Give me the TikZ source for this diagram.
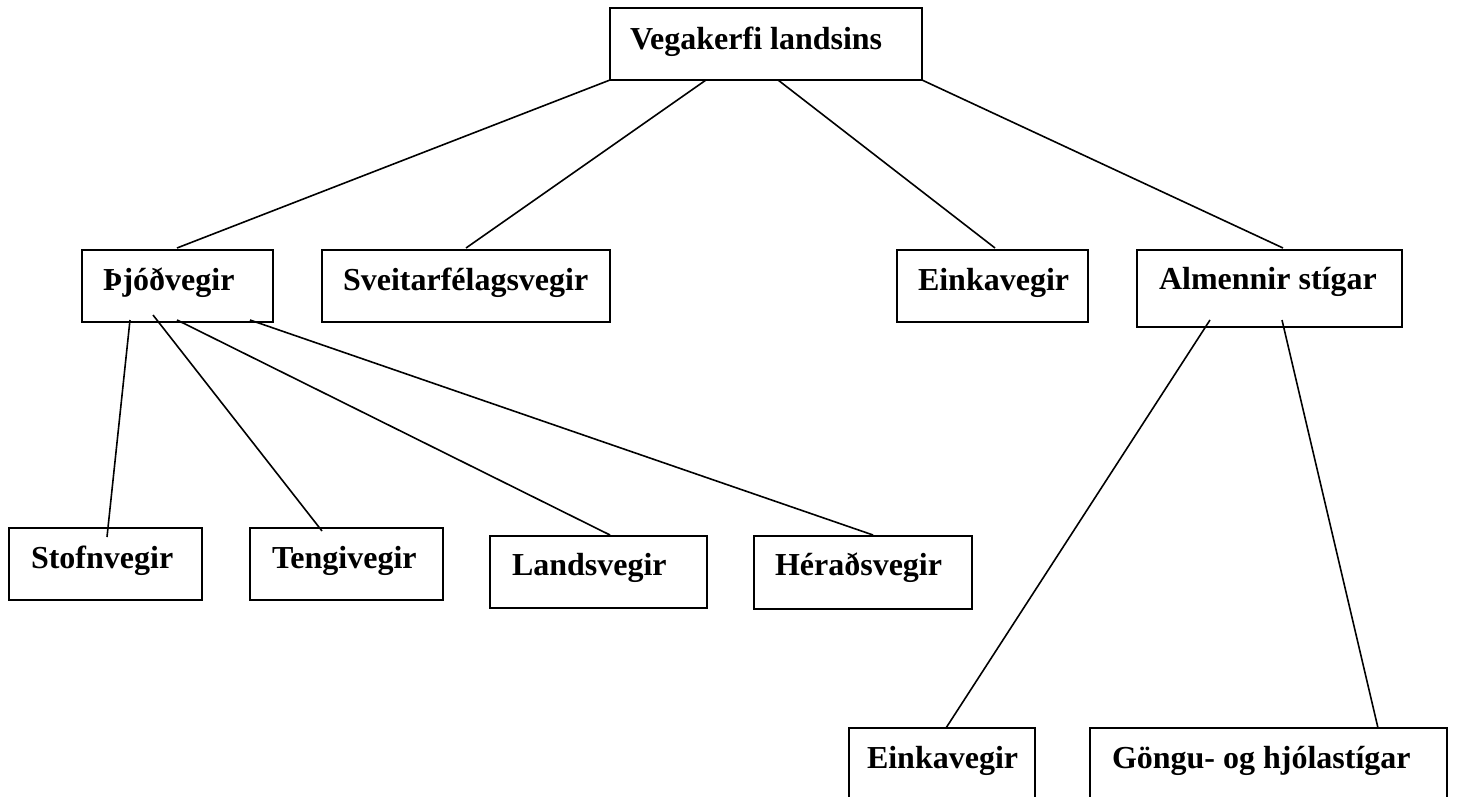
\documentclass[tikz,border=0pt]{standalone}
\usepackage{fontspec}
\setmainfont{Liberation Serif}
\begin{document}
\begin{tikzpicture}[x=1pt,y=-1pt,
  box/.style={draw, line width=2pt, rectangle, anchor=north west, inner ysep=0pt,
    outer sep=0pt, align=flush left, font=\fontsize{32}{38}\selectfont\bfseries},
  conn/.style={line width=1.6pt}]
\useasboundingbox[fill=white] (0,0) rectangle (1457,797);
% boxes: position = top-left
\node[box, inner xsep=20pt, text width=272pt, text height=42pt, text depth=30pt] (top) at (610,8) {Vegakerfi landsins};
\node[box, inner xsep=21pt, text width=149pt, text height=40pt, text depth=32pt] (thj) at (82,250) {Þjóðvegir};
\node[box, inner xsep=21pt, text width=246pt, text height=40pt, text depth=32pt] (sveit) at (322,250) {Sveitarfélagsvegir};
\node[box, inner xsep=21pt, text width=149pt, text height=40pt, text depth=32pt] (eink1) at (897,250) {Einkavegir};
\node[box, inner xsep=22pt, text width=221pt, text height=39pt, text depth=38pt] (alm) at (1137,250) {Almennir stígar};
\node[box, inner xsep=22pt, text width=149pt, text height=40pt, text depth=32pt] (stofn) at (9,528) {Stofnvegir};
\node[box, inner xsep=22pt, text width=149pt, text height=40pt, text depth=32pt] (tengi) at (250,528) {Tengivegir};
\node[box, inner xsep=22pt, text width=173pt, text height=39pt, text depth=33pt] (lands) at (490,536) {Landsvegir};
\node[box, inner xsep=21pt, text width=176pt, text height=39pt, text depth=34pt] (herad) at (754,536) {Héraðsvegir};
\node[box, inner xsep=18pt, text width=150pt, text height=40pt, text depth=35pt] (eink2) at (849,728) {Einkavegir};
\node[box, inner xsep=22pt, text width=313pt, text height=40pt, text depth=35pt] (gongu) at (1090,728) {Göngu- og hjólastígar};
% connectors
\draw[conn] (top.south west) -- ([xshift=95pt,yshift=2pt]thj.north west);
\draw[conn] ([xshift=96pt]top.south west) -- ([xshift=144pt,yshift=2pt]sveit.north west);
\draw[conn] ([xshift=168pt]top.south west) -- ([xshift=98pt,yshift=2pt]eink1.north west);
\draw[conn] (top.south east) -- ([xshift=146pt,yshift=2pt]alm.north west);
\draw[conn] ([xshift=48pt,yshift=2pt]thj.south west) -- ([xshift=98pt,yshift=-9pt]stofn.north west);
\draw[conn] ([xshift=71pt,yshift=7pt]thj.south west) -- ([xshift=72pt,yshift=-3pt]tengi.north west);
\draw[conn] ([xshift=95pt,yshift=2pt]thj.south west) -- ([xshift=120pt,yshift=1pt]lands.north west);
\draw[conn] ([xshift=168pt,yshift=2pt]thj.south west) -- ([xshift=119pt,yshift=1pt]herad.north west);
\draw[conn] ([xshift=73pt,yshift=7pt]alm.south west) -- ([xshift=97pt]eink2.north west);
\draw[conn] ([xshift=145pt,yshift=7pt]alm.south west) -- ([xshift=288pt]gongu.north west);
\end{tikzpicture}
\end{document}
